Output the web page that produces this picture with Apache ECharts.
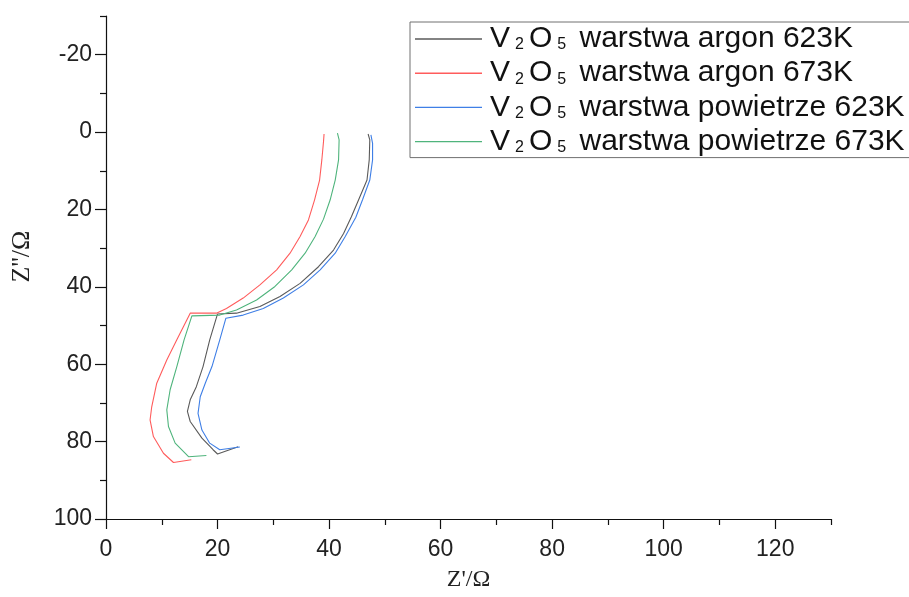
<!DOCTYPE html>
<html>
<head>
<meta charset="utf-8">
<title>V2O5 impedancja</title>
<script src="https://cdn.jsdelivr.net/npm/echarts@6/dist/echarts.min.js"></script>
<style>
  html, body { margin: 0; padding: 0; background: #ffffff; }
  #chart { width: 909px; height: 597px; }
</style>
</head>
<body>
<div id="chart"></div>
<script>
// Nyquist data: [Z' (Ω), Z'' (Ω)]
const argon623 = [
  [47.0, 0.5], [47.3, 2.0], [47.2, 7.2], [46.8, 12.4], [45.3, 17.5], [44.0, 21.9],
  [42.6, 26.2], [40.8, 30.5], [38.1, 34.8], [34.8, 39.1], [31.2, 42.5], [27.6, 45.1],
  [23.4, 46.8], [20.0, 47.0], [18.6, 53.7], [17.4, 60.6], [16.2, 65.8], [15.1, 69.2],
  [14.6, 72.2], [15.1, 74.8], [17.2, 79.1], [19.2, 82.1], [20.0, 83.2], [23.7, 81.3]
];
const argon673 = [
  [39.1, 0.5], [39.0, 2.5], [38.7, 7.2], [38.3, 12.4], [37.4, 17.5], [36.3, 22.7],
  [34.8, 27.0], [33.0, 31.3], [30.6, 35.6], [27.6, 39.5], [24.6, 42.9], [21.6, 45.6],
  [19.8, 46.8], [15.1, 46.8], [12.7, 53.7], [10.9, 58.9], [9.1, 64.9], [8.2, 71.0],
  [7.9, 74.4], [8.5, 78.7], [10.3, 83.0], [12.1, 85.4], [15.3, 84.7]
];
const powietrze623 = [
  [47.5, 0.7], [47.8, 2.9], [47.8, 7.2], [47.3, 12.4], [46.0, 17.5], [44.8, 22.0],
  [42.9, 27.0], [41.1, 31.3], [38.4, 35.6], [35.4, 39.5], [31.8, 42.9], [28.2, 45.6],
  [24.6, 47.3], [21.5, 48.1], [20.4, 53.7], [19.0, 60.6], [17.8, 64.9], [16.9, 68.4],
  [16.5, 72.7], [17.2, 77.0], [18.6, 80.4], [20.4, 82.1], [24.0, 81.4]
];
const powietrze673 = [
  [41.5, 0.3], [41.8, 2.0], [41.7, 7.2], [41.1, 12.4], [40.2, 17.5], [39.0, 22.5],
  [37.5, 27.0], [35.7, 31.3], [33.3, 35.6], [30.3, 39.9], [27.0, 43.4], [23.4, 46.0],
  [20.4, 47.3], [15.4, 47.5], [14.0, 53.7], [12.7, 60.6], [11.5, 66.6], [10.9, 71.8],
  [11.2, 76.1], [12.4, 80.4], [14.8, 83.9], [18.0, 83.6]
];

const seriesNames = [
  'V2O5 warstwa argon 623K',
  'V2O5 warstwa argon 673K',
  'V2O5 warstwa powietrze 623K',
  'V2O5 warstwa powietrze 673K'
];
const seriesData = [argon623, argon673, powietrze623, powietrze673];
const seriesColors = ['#5a5a5a', '#ff5c5c', '#3f7fe6', '#4fb47c'];

// Axis ticks
const xMajorTicks = [0, 20, 40, 60, 80, 100, 120];
const xMinorTicks = [10, 30, 50, 70, 90, 110, 130];
const yMajorTicks = [-20, 0, 20, 40, 60, 80, 100];
const yMinorTicks = [-30, -10, 10, 30, 50, 70, 90];

const axisColor = '#111111';
const labelFont = 'Arial, "Liberation Sans", sans-serif';
const titleFont = '"Times New Roman", "Liberation Serif", serif';

const chart = echarts.init(document.getElementById('chart'), null, { renderer: 'canvas' });

const grid = { left: 106, right: 78, top: 16, bottom: 78 };

chart.setOption({
  animation: false,
  backgroundColor: '#ffffff',
  grid: grid,
  legend: {
    orient: 'vertical',
    left: 410,
    top: 22,
    padding: [2, 60, 1, 5],
    borderColor: '#707070',
    borderWidth: 1,
    itemWidth: 67,
    itemHeight: 1.4,
    itemGap: 4.2,
    icon: 'rect',
    data: seriesNames,
    formatter: function (name) {
      return name.replace('V2O5', 'V{s|2}O{s|5}');
    },
    textStyle: {
      fontFamily: labelFont,
      fontSize: 30,
      color: '#111111',
      lineHeight: 28,
      padding: [0, 0, 0, 3],
      rich: {
        s: { fontFamily: labelFont, fontSize: 16, color: '#111111', padding: [0, 5, 0, 5], verticalAlign: 'bottom', lineHeight: 20 }
      }
    }
  },
  xAxis: [
    {
      type: 'value',
      min: 0,
      max: 130,
      interval: 10,
      position: 'bottom',
      name: "Z'/Ω",
      nameLocation: 'middle',
      nameGap: 49,
      nameTextStyle: { fontFamily: titleFont, fontSize: 24, color: '#222222' },
      axisLine: { show: true, onZero: false, lineStyle: { color: axisColor, width: 1.2 } },
      axisTick: { show: true, customValues: xMajorTicks, length: 10, lineStyle: { color: axisColor, width: 1.2 } },
      axisLabel: { customValues: xMajorTicks, fontFamily: labelFont, fontSize: 23, color: '#222222', margin: 19 },
      splitLine: { show: false }
    },
    {
      type: 'value',
      min: 0,
      max: 130,
      interval: 10,
      position: 'bottom',
      axisLine: { show: false, onZero: false },
      axisTick: { show: true, customValues: xMinorTicks, length: 6, lineStyle: { color: axisColor, width: 1.2 } },
      axisLabel: { show: false },
      splitLine: { show: false }
    }
  ],
  yAxis: [
    {
      type: 'value',
      inverse: true,
      min: -30,
      max: 100,
      interval: 10,
      position: 'left',
      name: "Z''/Ω",
      nameLocation: 'middle',
      nameGap: 71,
      nameTextStyle: { fontFamily: titleFont, fontSize: 26, color: '#222222', padding: [0, 0, 0, 22] },
      axisLine: { show: true, onZero: false, lineStyle: { color: axisColor, width: 1.2 } },
      axisTick: { show: true, customValues: yMajorTicks, length: 11, lineStyle: { color: axisColor, width: 1.2 } },
      axisLabel: { customValues: yMajorTicks, fontFamily: labelFont, fontSize: 23, color: '#222222', margin: 14 },
      splitLine: { show: false }
    },
    {
      type: 'value',
      inverse: true,
      min: -30,
      max: 100,
      interval: 10,
      position: 'left',
      axisLine: { show: false, onZero: false },
      axisTick: { show: true, customValues: yMinorTicks, length: 6, lineStyle: { color: axisColor, width: 1.2 } },
      axisLabel: { show: false },
      splitLine: { show: false }
    }
  ],
  series: seriesNames.map(function (name, i) {
    return {
      name: name,
      type: 'line',
      xAxisIndex: 0,
      yAxisIndex: 0,
      data: seriesData[i],
      showSymbol: false,
      symbol: 'none',
      smooth: false,
      color: seriesColors[i],
      lineStyle: { color: seriesColors[i], width: 1.1 },
      z: 3
    };
  })
});
</script>
</body>
</html>
